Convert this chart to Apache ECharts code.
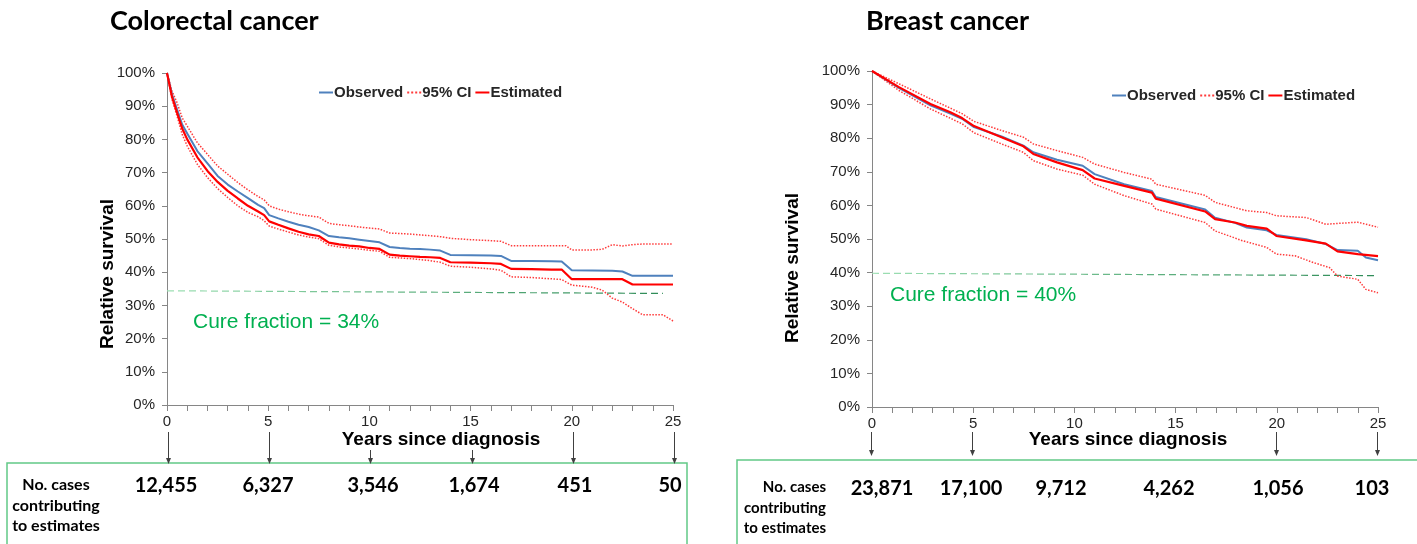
<!DOCTYPE html>
<html>
<head>
<meta charset="utf-8">
<title>Relative survival</title>
<script src="https://cdn.jsdelivr.net/npm/echarts@6/dist/echarts.min.js"></script>
<style>
html, body { margin: 0; padding: 0; background: #fff; }
#chart { width: 1417px; height: 544px; }
</style>
</head>
<body>
<div id="chart"></div>
<script>
// [years since diagnosis, relative survival %]
var crcObserved = [[0,100],[0.25,93.5],[0.5,89],[0.75,84.5],[1,81.8],[1.5,76.5],[2,72.8],[2.5,69],[3,66.4],[3.5,64.3],[4,62.3],[4.5,60.3],[4.8,59.3],[5.05,57.2],[5.5,56.2],[6,55.2],[6.5,54.3],[7,53.6],[7.5,52.6],[8,50.9],[8.5,50.5],[9,50.2],[9.5,49.8],[10,49.4],[10.5,49],[11,47.6],[11.5,47.3],[12,47.1],[12.5,47],[13,46.8],[13.5,46.5],[14,45.2],[15,45.1],[16,45],[16.5,44.9],[17,43.4],[18,43.4],[19,43.3],[19.5,43.2],[20,40.6],[21,40.5],[22,40.4],[22.5,40.2],[23,38.9],[25,38.9]];
var crcEstimated = [[0,100],[0.25,92.8],[0.5,88],[0.75,83.3],[1,80],[1.5,74.6],[2,70.5],[2.5,67.2],[3,64.5],[3.5,62.2],[4,60],[4.5,58.3],[4.8,57.2],[5.05,55.3],[5.5,54.3],[6,53.2],[6.5,52.2],[7,51.4],[7.5,50.9],[8,48.9],[8.5,48.4],[9,48],[9.5,47.8],[10,47.3],[10.5,47],[11,45.3],[11.5,45],[12,44.8],[12.5,44.6],[13,44.5],[13.5,44.3],[14,43],[15,42.9],[16,42.7],[16.5,42.5],[17,41],[18,40.9],[19,40.8],[19.5,40.8],[20,37.9],[22.5,37.9],[23,36.3],[25,36.3]];
var crcUpper = [[0,100],[0.25,94.5],[0.5,91],[0.75,86.5],[1,84],[1.5,79],[2,75.5],[2.5,72],[3,69.5],[3.5,67],[4,64.8],[4.5,62.8],[4.8,61.8],[5.05,60],[5.5,59],[6,58.2],[6.5,57.5],[7,57],[7.5,56.6],[8,54.7],[8.5,54.3],[9,54],[9.5,53.6],[10,53.3],[10.5,53],[11,51.8],[12,51.5],[13,51],[13.5,50.7],[14,50.2],[15,49.8],[16,49.5],[16.5,49.3],[17,48],[18,48],[19,48],[19.7,48],[20,46.7],[21,46.7],[21.5,46.9],[22,48.3],[22.5,47.9],[23,48.3],[23.5,48.5],[25,48.5]];
var crcLower = [[0,100],[0.25,92],[0.5,87],[0.75,81.5],[1,78],[1.5,72.5],[2,68.5],[2.5,65.2],[3,62.5],[3.5,60],[4,58],[4.5,56.7],[4.8,55.5],[5.05,53.9],[5.5,53],[6,52.1],[6.5,51.2],[7,50.6],[7.5,50.1],[8,48.1],[8.5,47.6],[9,47.3],[9.5,47],[10,46.6],[10.5,46.3],[11,44.5],[12,44.1],[13,43.5],[13.5,43],[14,41.8],[15,41.5],[16,41],[16.5,40.6],[17,38.6],[18,38.4],[19,38],[19.5,37.8],[20,36.1],[21,35.5],[21.5,34.6],[22,32.2],[22.5,31],[23,29],[23.5,27.2],[24.5,27.2],[25,25.3]];
var crcCure = [[0,34.4],[24.5,33.6]];

var brcObserved = [[0,100],[1.33,95],[2.89,89.8],[3.87,87.3],[4.45,85.8],[5.04,83.3],[6.4,80.5],[7.48,77.8],[7.97,75.8],[9.14,73.6],[10.41,71.8],[11,69.3],[12.46,66.3],[13.83,64.3],[14.02,62.5],[16.46,58.8],[16.95,56.3],[17.93,54.8],[18.52,53.4],[19.5,52.6],[19.98,51.2],[21.45,49.9],[22.42,48.5],[23,46.7],[24,46.5],[24.4,44.5],[25,43.7]];
var brcEstimated = [[0,100],[1.33,95.2],[2.89,90.2],[3.87,87.7],[4.45,86],[5.04,83.6],[6.4,80.3],[7.48,77.6],[7.97,75.3],[9.14,72.8],[10.41,70.5],[11,68],[12.46,65.8],[13.83,63.8],[14.02,62],[16.46,58.2],[16.95,55.9],[17.93,54.9],[18.52,53.9],[19.5,53.1],[19.98,50.9],[21.45,49.6],[22.42,48.6],[23,46.3],[24,45.5],[25,44.9]];
var brcUpper = [[0,100],[1.33,96.2],[2.89,91.7],[4.45,87.3],[5.04,85],[6.4,82.3],[7.48,80.3],[7.97,78.3],[9.14,76.3],[10.41,74.3],[11,72.3],[12.46,69.8],[13.83,67.8],[14.02,66.3],[16.46,63],[16.95,60.9],[18.52,58.4],[19.5,57.9],[19.98,56.9],[21.45,56.4],[22.42,54.4],[24,55],[25,53.5]];
var brcLower = [[0,100],[1.33,94.2],[2.89,88.7],[4.45,84.3],[5.04,81.6],[6.4,78.3],[7.48,75.8],[7.97,73.3],[9.14,70.8],[10.41,69],[11,66.3],[12.46,62.9],[13.83,60.4],[14.02,58.9],[16.46,54.9],[16.95,52.4],[18.3,49.5],[19.5,47.5],[19.98,45.5],[20.9,45],[21.8,43],[22.6,41.5],[23,39],[24,38],[24.4,35],[25,34]];
var brcCure = [[0,39.8],[25,39.1]];

var yearTicks = [0, 5, 10, 15, 20, 25];
var crcCases = ['12,455', '6,327', '3,546', '1,674', '451', '50'];
var brcCases = ['23,871', '17,100', '9,712', '4,262', '1,056', '103'];
var crcArrowYears = [0, 5, 10, 15, 20, 25];
var brcArrowYears = [0, 5, 20, 25];
var crcCureLabel = 'Cure fraction = 34%';
var brcCureLabel = 'Cure fraction = 40%';

var axisColor = '#868686';
var labelColor = '#262626';
var arial = 'Liberation Sans, Arial, sans-serif';
var calibri = 'Lato, Carlito, sans-serif';

function xAxisFor (g) {
  return {
    type: 'value', gridIndex: g, min: 0, max: 25, interval: 5,
    axisLine: { lineStyle: { color: axisColor } },
    axisTick: { length: 6, lineStyle: { color: axisColor } },
    minorTick: { show: true, splitNumber: 5, length: 6, lineStyle: { color: axisColor } },
    axisLabel: { margin: 9, fontSize: 15, color: labelColor, fontFamily: arial },
    splitLine: { show: false }
  }
}
function yAxisFor (g) {
  return {
    type: 'value', gridIndex: g, min: 0, max: 100, interval: 10,
    axisLine: { show: true, lineStyle: { color: axisColor } },
    axisTick: { show: true, length: 5, lineStyle: { color: axisColor } },
    axisLabel: { margin: 12, fontSize: 15, color: labelColor, fontFamily: arial, formatter: '{value}%' },
    splitLine: { show: false }
  }
}
function line (name, data, g, color, width, type, z) {
  return {
    name: name, type: 'line', xAxisIndex: g, yAxisIndex: g, data: data,
    symbol: 'none', silent: true, animation: false, z: z,
    lineStyle: { color: color, width: width, type: type },
    itemStyle: { color: color }
  }
}
function cureLine (data, g) {
  return {
    type: 'line', xAxisIndex: g, yAxisIndex: g, data: data, symbol: 'none', silent: true, z: 1,
    lineStyle: {
      width: 1.2, type: [7, 4],
      color: { type: 'linear', x: 0, y: 0, x2: 1, y2: 0, colorStops: [{ offset: 0, color: '#9ee0b4' }, { offset: 1, color: '#2e8b57' }] }
    }
  }
}
function legendFor (left, top) {
  return {
    left: left, top: top, itemWidth: 14, itemHeight: 10, itemGap: 3,
    data: ['Observed', '95% CI', 'Estimated'],
    itemStyle: { opacity: 0 },
    textStyle: { fontSize: 15, fontWeight: 'bold', color: labelColor, fontFamily: arial, padding: [0, 0, 0, -4] }
  }
}
function text (x, y, str, style) {
  return { type: 'text', x: x, y: y, style: Object.assign({ text: str, fill: '#000' }, style) }
}

var chart = echarts.init(document.getElementById('chart'))
chart.setOption({
  animation: false,
  grid: [
    { left: 167, top: 73, width: 506, height: 332 },
    { left: 872, top: 71, width: 506, height: 336 }
  ],
  xAxis: [xAxisFor(0), xAxisFor(1)],
  yAxis: [yAxisFor(0), yAxisFor(1)],
  legend: [legendFor(313, 80), legendFor(1106, 83)],
  series: [
    cureLine(crcCure, 0),
    line('95% CI', crcUpper, 0, '#ff3b3b', 1.5, 'dotted', 2),
    line('95% CI', crcLower, 0, '#ff3b3b', 1.5, 'dotted', 2),
    line('Observed', crcObserved, 0, '#4f81bd', 2, 'solid', 3),
    line('Estimated', crcEstimated, 0, '#ff0000', 2.2, 'solid', 4),
    cureLine(brcCure, 1),
    line('95% CI', brcUpper, 1, '#ff3b3b', 1.5, 'dotted', 2),
    line('95% CI', brcLower, 1, '#ff3b3b', 1.5, 'dotted', 2),
    line('Observed', brcObserved, 1, '#4f81bd', 2, 'solid', 3),
    line('Estimated', brcEstimated, 1, '#ff0000', 2.2, 'solid', 4)
  ]
})

// annotations: titles, axis names, case table with arrows
var g = []
var titleStyle = { font: 'bold 27px ' + calibri, fill: '#000', textVerticalAlign: 'middle' }
g.push(text(110, 21, 'Colorectal cancer', titleStyle))
g.push(text(866, 21, 'Breast cancer', titleStyle))
var axisNameStyle = { font: 'bold 19px ' + arial, fill: '#000', textAlign: 'center', textVerticalAlign: 'middle' }
g.push(text(441, 440, 'Years since diagnosis', axisNameStyle))
g.push(text(1128, 440, 'Years since diagnosis', axisNameStyle))
g.push({ type: 'text', x: 108, y: 274, rotation: Math.PI / 2, style: Object.assign({ text: 'Relative survival' }, axisNameStyle) })
g.push({ type: 'text', x: 793, y: 268, rotation: Math.PI / 2, style: Object.assign({ text: 'Relative survival' }, axisNameStyle) })
var cureStyle = { font: '21px ' + arial, fill: '#00b050', textVerticalAlign: 'middle' }
g.push(text(193, 322, crcCureLabel, cureStyle))
g.push(text(890, 295, brcCureLabel, cureStyle))

g.push({ type: 'rect', shape: { x: 7, y: 463, width: 680, height: 100 }, style: { fill: 'none', stroke: '#62c986', lineWidth: 1.5 } })
g.push({ type: 'rect', shape: { x: 737, y: 460, width: 720, height: 100 }, style: { fill: 'none', stroke: '#62c986', lineWidth: 1.5 } })

var caseLabelLeft = { font: 'bold 16px ' + calibri, fill: '#000', textAlign: 'center', textVerticalAlign: 'middle' }
var caseLabelRight = { font: 'bold 15px ' + calibri, fill: '#000', textAlign: 'right', textVerticalAlign: 'middle' }
;[['No. cases', 485], ['contributing', 506], ['to estimates', 526]].forEach(function (r) {
  g.push(text(56, r[1], r[0], caseLabelLeft))
  g.push(text(826, r[1] + 2, r[0], caseLabelRight))
})
var numStyle = { font: 'bold 20px ' + calibri, fill: '#000', textAlign: 'center', textVerticalAlign: 'middle' }
var crcNumX = [166, 268, 373, 474, 575, 670]
var brcNumX = [882, 971, 1061, 1169, 1278, 1372]
crcCases.forEach(function (c, i) { g.push(text(crcNumX[i], 486, c, numStyle)) })
brcCases.forEach(function (c, i) { g.push(text(brcNumX[i], 489, c, numStyle)) })

function arrow (x, y1, y2) {
  g.push({ type: 'line', shape: { x1: x, y1: y1, x2: x, y2: y2 - 5 }, style: { stroke: '#404040', lineWidth: 1 } })
  g.push({ type: 'polygon', shape: { points: [[x - 2.5, y2 - 6], [x + 2.5, y2 - 6], [x, y2]] }, style: { fill: '#404040' } })
}
crcArrowYears.forEach(function (yr) {
  var x = Math.round(chart.convertToPixel({ xAxisIndex: 0 }, yr)) + 1.5
  var short = yr === 10 || yr === 15
  arrow(x, short ? 450 : 432, 464)
})
brcArrowYears.forEach(function (yr) {
  var x = Math.round(chart.convertToPixel({ xAxisIndex: 1 }, yr)) - 0.5
  arrow(x, 432, 456)
})

chart.setOption({ graphic: g })
</script>
</body>
</html>
